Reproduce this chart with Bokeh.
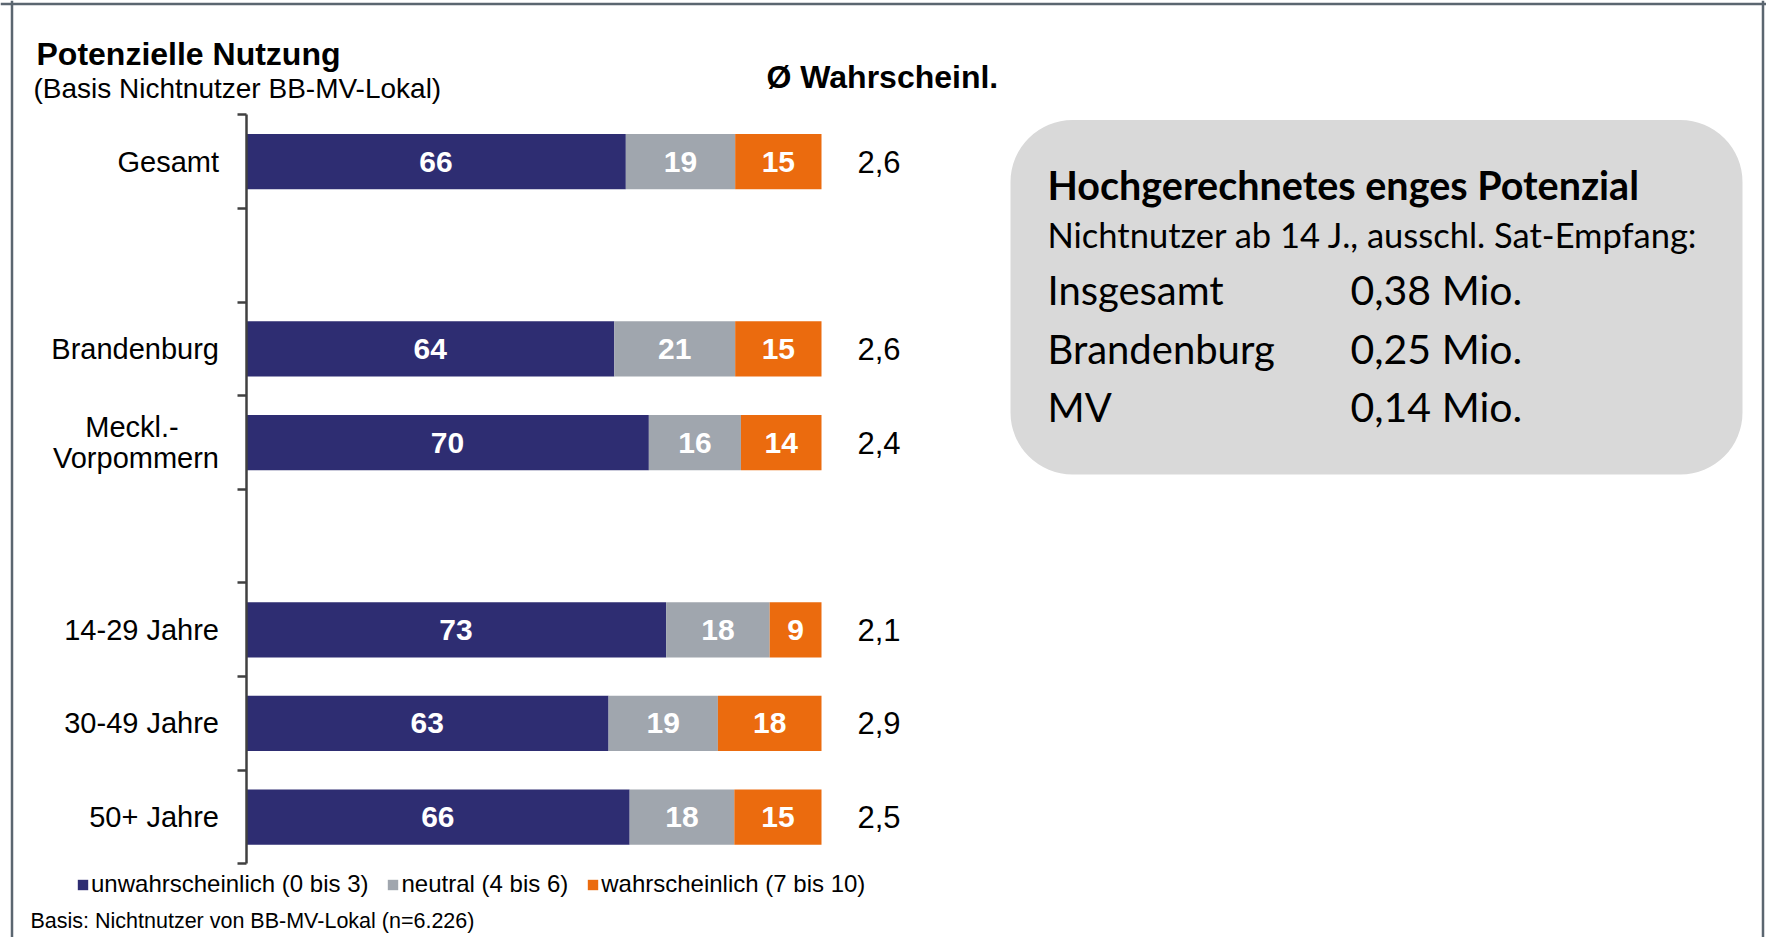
from bokeh.plotting import figure
from bokeh.models import (ColumnDataSource, LinearAxis, FixedTicker, Label, Span,
                          BoxAnnotation, Range1d)
from bokeh.core.properties import value
from bokeh.embed import file_html
from bokeh.resources import INLINE

# ---------------- data ----------------
groups = [["Gesamt"],
          ["Brandenburg", "Meckl.-\nVorpommern"],
          ["14-29 Jahre", "30-49 Jahre", "50+ Jahre"]]
unwahrscheinlich = [66, 64, 70, 73, 63, 66]
neutral = [19, 21, 16, 18, 19, 18]
wahrscheinlich = [15, 15, 14, 9, 18, 15]
durchschnitt = [2.6, 2.6, 2.4, 2.1, 2.9, 2.5]
series_names = ["unwahrscheinlich (0 bis 3)", "neutral (4 bis 6)", "wahrscheinlich (7 bis 10)"]
series_colors = ["#2E2D72", "#A0A6AE", "#EB6B0E"]

chart_title = "Potenzielle Nutzung"
chart_subtitle = "(Basis Nichtnutzer BB-MV-Lokal)"
avg_header = "Ø Wahrscheinl."
footnote = "Basis: Nichtnutzer von BB-MV-Lokal (n=6.226)"

box_title = "Hochgerechnetes enges Potenzial"
box_subtitle = "Nichtnutzer ab 14 J., ausschl. Sat-Empfang:"
box_regions = ["Insgesamt", "Brandenburg", "MV"]
box_values = [0.38, 0.25, 0.14]

# ---------------- layout helpers ----------------
W, H = 1766, 937
ORG = 0                 # page offset of the canvas
X0, PX = 245.5, 5.755   # pixel of 0 %, pixels per percent
Y0, SLOT = 161.1, 93.64 # pixel of first category centre, pixels per slot


def xd(px):
    return (px - X0) / PX


def yd(py):
    return -(py - Y0) / SLOT


categories, slots = [], []
s = 0
for gi, g in enumerate(groups):
    if gi > 0:
        s += 1
    for c in g:
        categories.append(c)
        slots.append(s)
        s += 1
n_slots = s
ys = [-k for k in slots]


def axis_label(c):
    # multi-line labels: first line centred over the longer second line
    lines = c.split("\n")
    if len(lines) == 1:
        return c
    return lines[0] + "\u00a0" * 5 + "\n" + "\n".join(lines[1:])


p = figure(width=W, height=H,
           x_range=Range1d(xd(ORG), xd(ORG + W)),
           y_range=Range1d(yd(ORG + H), yd(ORG)),
           x_axis_location=None, y_axis_location=None,
           toolbar_location=None, output_backend="svg",
           min_border=0, outline_line_color=None, title=None,
           background_fill_color="white", border_fill_color="white")
p.xgrid.visible = False
p.ygrid.visible = False

# ---------------- stacked 100% bars ----------------
series = [unwahrscheinlich, neutral, wahrscheinlich]
totals = [sum(v) for v in zip(*series)]
left = [0.0] * len(categories)
for vals, name, color in zip(series, series_names, series_colors):
    share = [v / t * 100 for v, t in zip(vals, totals)]
    right = [l + sh for l, sh in zip(left, share)]
    src = ColumnDataSource(dict(y=ys, left=left, right=right,
                                mid=[(l + r) / 2 for l, r in zip(left, right)],
                                label=[str(v) for v in vals]))
    p.hbar(y="y", left="left", right="right", height=0.59, source=src,
           fill_color=color, line_color=None, legend_label=name)
    p.text(x="mid", y="y", text="label", source=src, text_align="center",
           text_baseline="middle", text_color="white",
           text_font=value("Liberation Sans"), text_font_style="bold",
           text_font_size="30px")
    left = right

avg_src = ColumnDataSource(dict(x=left, y=ys,
                                t=[f"{v:.1f}".replace(".", ",") for v in durchschnitt]))
p.text(x="x", y="y", text="t", source=avg_src, x_offset=36,
       text_align="left", text_baseline="middle", text_color="black",
       text_font=value("Liberation Sans"), text_font_size="31px")

# ---------------- category axis ----------------
ax = LinearAxis(fixed_location=0, bounds=(-(n_slots - 0.5), 0.5),
                ticker=FixedTicker(ticks=ys,
                                   minor_ticks=[0.5 - k for k in range(n_slots + 1)]),
                major_label_overrides={y: axis_label(c) for y, c in zip(ys, categories)},
                major_tick_out=0, major_tick_in=0,
                minor_tick_out=9, minor_tick_in=0,
                minor_tick_line_color="#404040", minor_tick_line_width=2.5,
                axis_line_color="#404040", axis_line_width=2.5,
                major_label_standoff=18,
                major_label_text_font="Liberation Sans",
                major_label_text_font_size="29px",
                major_label_text_line_height=0.97,
                major_label_text_color="black")
p.add_layout(ax, "left")

# ---------------- legend ----------------
leg = p.legend[0]
leg.orientation = "horizontal"
leg.location = (76, 39)
leg.border_line_color = None
leg.background_fill_alpha = 0
leg.padding = 0
leg.margin = 0
leg.spacing = 18
leg.glyph_width = 13
leg.glyph_height = 13
leg.label_standoff = 2
leg.label_text_font = "Liberation Sans"
leg.label_text_font_size = "24px"
leg.label_text_color = "black"

# ---------------- texts ----------------
def lab(text, px, py, size, style="normal", font="Liberation Sans", align="left"):
    p.add_layout(Label(x=xd(px), y=yd(py), text=text, text_font=font,
                       text_font_size=size, text_font_style=style,
                       text_align=align, text_baseline="middle",
                       text_color="black"))

lab(chart_title, 36, 53, "32px", "bold")
lab(chart_subtitle, 33, 88, "28px")
lab(avg_header, 766, 76, "32px", "bold")
lab(footnote, 30, 920, "21.5px")

# ---------------- info box ----------------
p.add_layout(BoxAnnotation(left=xd(1010), right=xd(1742), top=yd(119.5), bottom=yd(474),
                           fill_color="#D9D9D9", fill_alpha=1, line_color=None,
                           border_radius=62, level="underlay"))
lab(box_title, 1047, 184, "39.5px", "bold", "Lato")
lab(box_subtitle, 1047, 234, "34.5px", "normal", "Lato")
row_py = [289, 348, 406]
for name, v, py in zip(box_regions, box_values, row_py):
    lab(name, 1047, py, "40px", "normal", "Lato")
    lab(f"{v:.2f}".replace(".", ",") + " Mio.", 1350, py, "41px", "normal", "Lato")

# ---------------- frame lines ----------------
frame_color = "#5B6670"
p.add_layout(Span(location=xd(11.5), dimension="height", line_color=frame_color, line_width=2.5))
p.add_layout(Span(location=xd(1762.5), dimension="height", line_color=frame_color, line_width=2.5))
p.add_layout(Span(location=yd(3.5), dimension="width", line_color=frame_color, line_width=2.5))

open("out.html", "w").write(file_html(p, INLINE))
